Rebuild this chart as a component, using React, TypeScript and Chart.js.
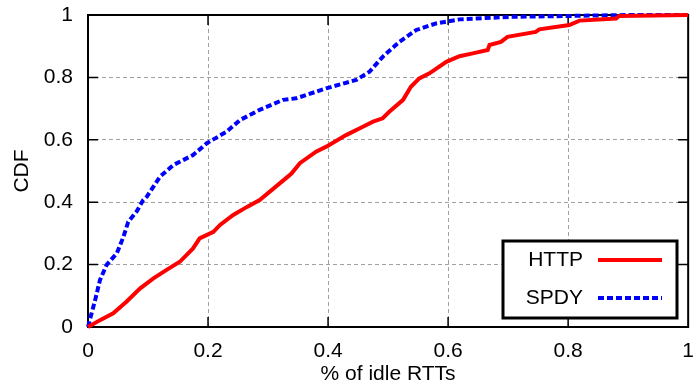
import React, { useEffect, useRef } from 'react';
import { Chart, registerables } from 'chart.js';

Chart.register(...registerables);

const seriesNames = ['HTTP', 'SPDY'];
const xTitle = '% of idle RTTs';
const yTitle = 'CDF';
const tickValues = [0, 0.2, 0.4, 0.6, 0.8, 1];
const xTickLabels = ['0', '0.2', '0.4', '0.6', '0.8', '1'];
const yTickLabels = ['0', '0.2', '0.4', '0.6', '0.8', '1'];

const httpX = [0, 0.02, 0.042, 0.064, 0.087, 0.109, 0.131, 0.153, 0.175, 0.186, 0.209, 0.22, 0.242, 0.265, 0.286, 0.333, 0.339, 0.353, 0.38, 0.397, 0.43, 0.458, 0.475, 0.491, 0.502, 0.525, 0.538, 0.552, 0.569, 0.597, 0.619, 0.641, 0.666, 0.669, 0.688, 0.699, 0.746, 0.752, 0.802, 0.819, 0.88, 0.885, 1];
const httpY = [0, 0.022, 0.044, 0.081, 0.124, 0.156, 0.183, 0.209, 0.252, 0.284, 0.305, 0.327, 0.359, 0.385, 0.407, 0.482, 0.492, 0.525, 0.562, 0.578, 0.615, 0.642, 0.658, 0.669, 0.69, 0.728, 0.77, 0.797, 0.813, 0.85, 0.868, 0.877, 0.888, 0.904, 0.914, 0.93, 0.946, 0.954, 0.968, 0.982, 0.989, 0.997, 1];

const spdyX = [0, 0.006, 0.012, 0.02, 0.031, 0.048, 0.059, 0.067, 0.081, 0.092, 0.098, 0.12, 0.142, 0.175, 0.198, 0.231, 0.253, 0.286, 0.325, 0.347, 0.397, 0.447, 0.469, 0.491, 0.519, 0.547, 0.58, 0.619, 0.702, 0.802, 0.9, 1];
const spdyY = [0, 0.044, 0.087, 0.151, 0.199, 0.236, 0.289, 0.337, 0.37, 0.407, 0.418, 0.482, 0.519, 0.551, 0.589, 0.626, 0.663, 0.696, 0.728, 0.733, 0.765, 0.792, 0.818, 0.866, 0.914, 0.952, 0.973, 0.986, 0.994, 0.997, 1, 1];

const FONT = '"Liberation Sans", Arial, Helvetica, sans-serif';

const framePlugin = {
  id: 'frameTicks',
  beforeDatasetsDraw(chart: any) {
    const { ctx, chartArea } = chart;
    const xs = chart.scales.x;
    const ys = chart.scales.y;
    const { left, right, top, bottom } = chartArea;
    ctx.save();
    ctx.strokeStyle = '#000';
    ctx.lineWidth = 1.5;
    const tl = 10;
    ctx.beginPath();
    tickValues.forEach((v) => {
      if (v <= 0 || v >= 1) return;
      const px = xs.getPixelForValue(v);
      ctx.moveTo(px, bottom);
      ctx.lineTo(px, bottom - tl);
      ctx.moveTo(px, top);
      ctx.lineTo(px, top + tl);
      const py = ys.getPixelForValue(v);
      ctx.moveTo(left, py);
      ctx.lineTo(left + tl, py);
      ctx.moveTo(right, py);
      ctx.lineTo(right - tl, py);
    });
    ctx.stroke();
    ctx.lineWidth = 2;
    ctx.strokeRect(left, top, right - left, bottom - top);
    ctx.restore();
  },
  afterDraw(chart: any) {
    const { ctx } = chart;
    const bx = 503, by = 241, bw = 174, bh = 77;
    ctx.save();
    ctx.fillStyle = '#fff';
    ctx.fillRect(bx, by, bw, bh);
    ctx.lineWidth = 3;
    ctx.strokeStyle = '#000';
    ctx.strokeRect(bx, by, bw, bh);
    ctx.font = `21px ${FONT}`;
    ctx.textAlign = 'right';
    ctx.textBaseline = 'middle';
    ctx.fillStyle = '#000';
    const rows = [260, 298];
    chart.data.datasets.forEach((ds: any, i: number) => {
      const y = rows[i];
      ctx.fillText(ds.label, 583, y);
      ctx.beginPath();
      ctx.strokeStyle = ds.borderColor;
      ctx.lineWidth = ds.borderWidth;
      ctx.setLineDash(ds.borderDash || []);
      ctx.lineCap = 'butt';
      ctx.moveTo(598, y);
      ctx.lineTo(662, y);
      ctx.stroke();
      ctx.setLineDash([]);
    });
    ctx.restore();
  },
};

export default function App() {
  const ref = useRef<HTMLCanvasElement>(null);
  useEffect(() => {
    if (!ref.current) return;
    const toPts = (xs: number[], ys: number[]) => xs.map((x, i) => ({ x, y: ys[i] }));
    const chart = new Chart(ref.current, {
      type: 'scatter',
      data: {
        datasets: [
          {
            label: seriesNames[0],
            data: toPts(httpX, httpY),
            showLine: true,
            borderColor: '#ff0000',
            backgroundColor: '#ff0000',
            borderWidth: 4,
            pointRadius: 0,
            tension: 0,
            clip: 6,
          },
          {
            label: seriesNames[1],
            data: toPts(spdyX, spdyY),
            showLine: true,
            borderColor: '#0000ff',
            backgroundColor: '#0000ff',
            borderWidth: 4,
            borderDash: [6, 3],
            pointRadius: 0,
            tension: 0,
            clip: 6,
          },
        ],
      },
      options: {
        responsive: false,
        animation: false,
        devicePixelRatio: 1,
        layout: { padding: { top: 15, right: 0, left: 0, bottom: 0 } },
        plugins: { legend: { display: false }, tooltip: { enabled: false } },
        scales: {
          x: {
            type: 'linear',
            min: 0,
            max: 1,
            afterFit: (s: any) => { s.height = 64; },
            afterBuildTicks: (s: any) => { s.ticks = tickValues.map((v) => ({ value: v })); },
            ticks: {
              color: '#000',
              font: { family: FONT, size: 21 },
              padding: 0,
              maxRotation: 0,
              callback: (_v: any, i: number) => xTickLabels[i],
            },
            grid: { color: '#a0a0a0', lineWidth: 1, drawTicks: true, tickLength: 12, tickColor: 'rgba(0,0,0,0)' },
            border: { display: false, dash: [4, 3] },
            title: { display: true, text: xTitle, color: '#000', font: { family: FONT, size: 21 }, padding: { top: 0, bottom: 4 } },
          },
          y: {
            type: 'linear',
            min: 0,
            max: 1,
            afterFit: (s: any) => { s.width = 88; },
            afterBuildTicks: (s: any) => { s.ticks = tickValues.map((v) => ({ value: v })); },
            ticks: {
              color: '#000',
              font: { family: FONT, size: 21 },
              padding: 0,
              callback: (_v: any, i: number) => yTickLabels[i],
            },
            grid: { color: '#a0a0a0', lineWidth: 1, drawTicks: true, tickLength: 15, tickColor: 'rgba(0,0,0,0)' },
            border: { display: false, dash: [4, 3] },
            title: { display: true, text: yTitle, color: '#000', font: { family: FONT, size: 21 }, padding: { top: 10, bottom: 0 } },
          },
        },
      },
      plugins: [framePlugin],
    });
    return () => chart.destroy();
  }, []);
  return (
    <div style={{ position: 'fixed', left: 0, top: 0, width: 694, height: 391, background: '#fff' }}>
      <canvas ref={ref} width={694} height={391} />
    </div>
  );
}
